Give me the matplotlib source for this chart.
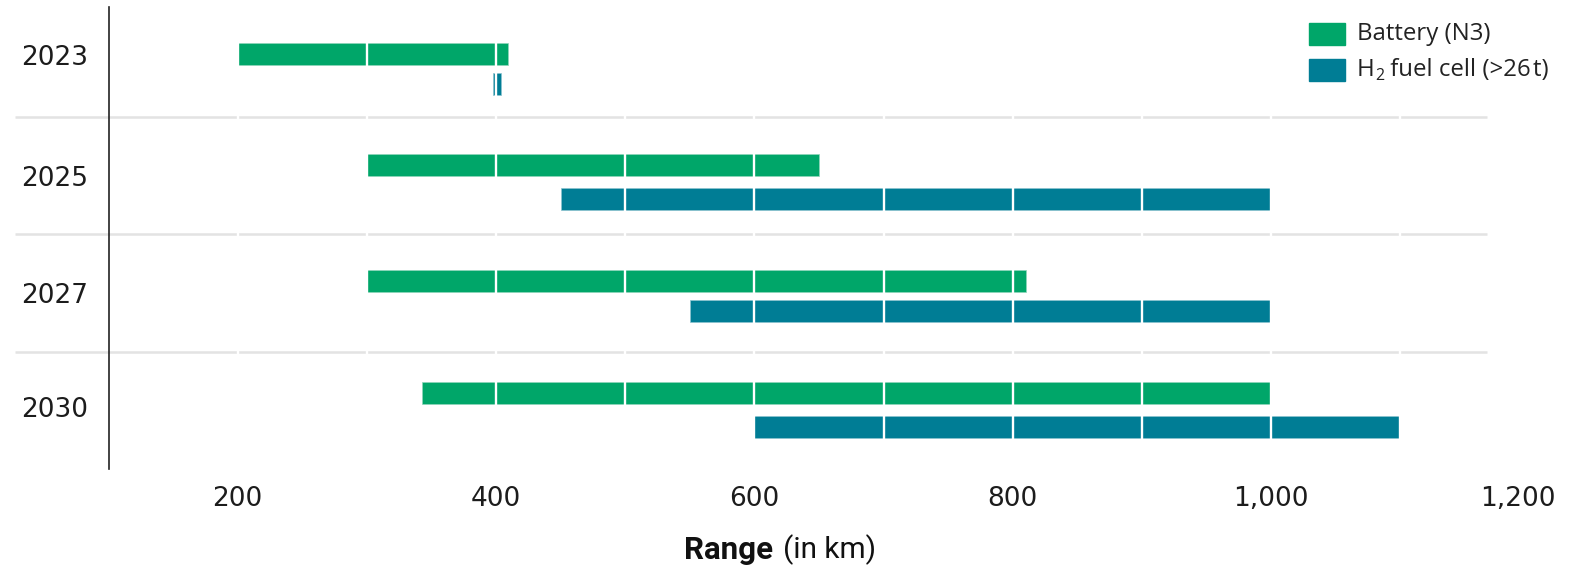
import matplotlib
matplotlib.use("Agg")
import matplotlib.pyplot as plt
from matplotlib.patches import Rectangle
from matplotlib.ticker import FixedLocator, FuncFormatter
from matplotlib.transforms import ScaledTranslation

# Range estimates per year (km)
years = ["2023", "2025", "2027", "2030"]
battery_min = [200, 300, 300, 343]
battery_max = [409, 650, 810, 1000]
h2_min = [398, 450, 550, 600]
h2_max = [404, 1000, 1000, 1100]
x_ticks = [200, 400, 600, 800, 1000, 1200]
battery_label = "Battery (N3)"
h2_label_parts = ["H", "2", " fuel cell (>26\u200at)"]

GREEN = "#00A669"
TEAL = "#007D95"
GRID_GREY = "#e3e3e3"
TEXT = "#1c1c1c"

W, H = 1578, 567
fig = plt.figure(figsize=(W / 100, H / 100), dpi=100)
ax = fig.add_axes([108.5 / W, 1 - 469 / H, (1529.5 - 108.5) / W, (469 - 7) / H])
ax.set_xlim(100, 1200)
ax.set_ylim(469, 7)  # vertical layout units, top to bottom

# vertical layout of rows
bat_y = [54, 165, 281, 393]
h2_y = [84, 199, 311, 427]
label_y = [55, 176, 293, 407]
sep_y = [117, 234, 352]
bar_h = 22

bat_w = [b - a for a, b in zip(battery_min, battery_max)]
h2_w = [b - a for a, b in zip(h2_min, h2_max)]
ax.barh(bat_y, bat_w, left=battery_min, height=bar_h, color=GREEN,
        edgecolor="#8fd6bb", linewidth=0.5, zorder=2)
ax.barh(h2_y, h2_w, left=h2_min, height=bar_h, color=TEAL,
        edgecolor="#8cc4d0", linewidth=0.5, zorder=2)

# row separators
for y in sep_y:
    ax.plot([28, 1167], [y, y], color=GRID_GREY, lw=1.8, clip_on=False,
            solid_capstyle="butt", zorder=1)

# white gridlines cut through bars and separators
for v in range(200, 1200, 100):
    ax.axvline(v, color="white", lw=1.7, zorder=3)

for s in ["top", "right", "bottom"]:
    ax.spines[s].set_visible(False)
ax.spines["left"].set_color("#222222")
ax.spines["left"].set_linewidth(1.2)
ax.spines["left"].set_zorder(4)

ax.xaxis.set_major_locator(FixedLocator(x_ticks))
ax.xaxis.set_major_formatter(FuncFormatter(lambda v, p: f"{int(v):,}"))
ax.set_yticks(label_y)
ax.set_yticklabels(years)
ax.tick_params(axis="x", length=0, pad=12, labelsize=19, labelcolor=TEXT)
ax.tick_params(axis="y", length=0, pad=15, labelsize=19, labelcolor=TEXT)
for lab in ax.get_xticklabels() + ax.get_yticklabels():
    lab.set_family("DejaVu Sans")

# keep the last x label inside the canvas
last = ax.xaxis.get_major_ticks()[-1].label1
last.set_transform(last.get_transform() + ScaledTranslation(-0.12, 0, fig.dpi_scale_trans))

# axis title
fig.text(773 / W, 1 - 550 / H, "Range", weight="bold", family="Roboto",
         size=22.5, ha="right", va="center", color="#111111")
fig.text(783 / W, 1 - 550 / H, "(in km)", family="Roboto",
         size=21.5, ha="left", va="center", color="#111111")

# legend
renderer = fig.canvas.get_renderer()
legend_font = dict(family="Open Sans", color="#222222", va="center", ha="left")
fig.add_artist(Rectangle((1309 / W, 1 - 45 / H), 36 / W, 22 / H,
                         transform=fig.transFigure, color=GREEN))
fig.text(1357 / W, 1 - 34 / H, battery_label, size=17.3, **legend_font)

fig.add_artist(Rectangle((1309 / W, 1 - 80.5 / H), 36 / W, 22 / H,
                         transform=fig.transFigure, color=TEAL))
y_h2 = 1 - 69.5 / H
t_h = fig.text(1357 / W, y_h2, h2_label_parts[0], size=17.3, **legend_font)
bb = t_h.get_window_extent(renderer)
t_sub = fig.text(bb.x1 / W + 0.5 / W, y_h2 - 6 / H, h2_label_parts[1], size=11.5,
                 **legend_font)
bb = t_sub.get_window_extent(renderer)
fig.text(bb.x1 / W, y_h2, h2_label_parts[2], size=17.3, **legend_font)

fig.savefig("out.png", dpi=100)
